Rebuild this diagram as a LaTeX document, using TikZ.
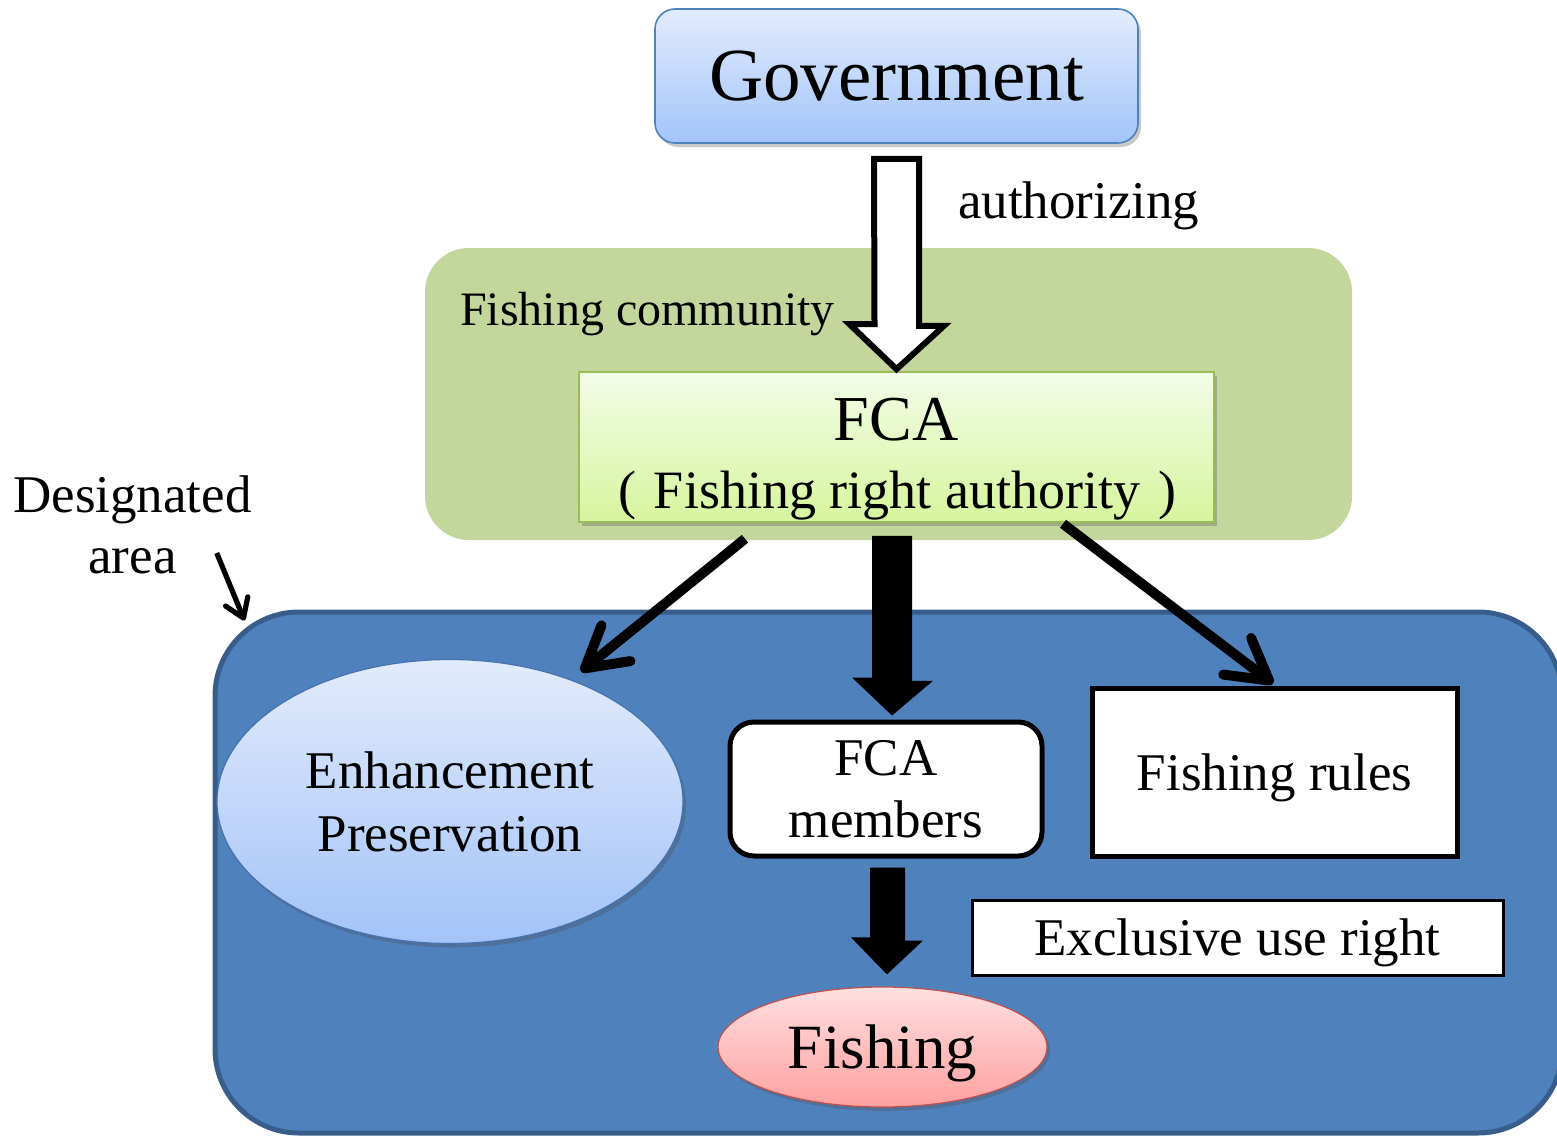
\documentclass[tikz,border=0pt]{standalone}
\usepackage{fontspec}
\setmainfont{Liberation Serif}
\usetikzlibrary{arrows.meta,shadows,calc,shapes.geometric}

\definecolor{govtop}{RGB}{226,236,253}
\definecolor{govbot}{RGB}{163,196,250}
\definecolor{govline}{RGB}{79,129,189}
\definecolor{commfill}{RGB}{195,214,155}
\definecolor{fcatop}{RGB}{243,252,232}
\definecolor{fcabot}{RGB}{214,245,158}
\definecolor{fcaline}{RGB}{155,187,89}
\definecolor{areafill}{RGB}{79,129,189}
\definecolor{arealine}{RGB}{56,93,138}
\definecolor{enhtop}{RGB}{226,235,252}
\definecolor{enhbot}{RGB}{163,195,248}
\definecolor{enhline}{RGB}{70,115,175}
\definecolor{fishtop}{RGB}{255,224,224}
\definecolor{fishbot}{RGB}{255,160,160}
\definecolor{fishline}{RGB}{192,80,77}

\newcommand{\fs}[1]{\fontsize{#1}{1.15\dimexpr#1\relax}\selectfont}

\tikzset{
  softshadow/.style={drop shadow={shadow xshift=1.5pt,shadow yshift=-2pt,opacity=0.3,fill=black!70}},
  govbox/.style={rectangle,rounded corners=10pt,top color=govtop,bottom color=govbot,
    draw=govline,line width=0.8pt,softshadow,inner sep=0pt},
  commbox/.style={rectangle,rounded corners=22pt,fill=commfill,inner sep=0pt},
  fcabox/.style={rectangle,top color=fcatop,bottom color=fcabot,draw=fcaline,
    line width=0.8pt,softshadow,inner sep=0pt},
  areabox/.style={rectangle,rounded corners=42pt,fill=areafill,draw=arealine,
    line width=2.5pt,inner sep=0pt},
  enhshape/.style={ellipse,top color=enhtop,bottom color=enhbot,draw=enhline,
    line width=0.6pt,softshadow,inner sep=0pt,align=center},
  fishshape/.style={ellipse,top color=fishtop,bottom color=fishbot,draw=fishline,
    line width=0.6pt,softshadow,inner sep=0pt},
  whitebox/.style={rectangle,fill=white,draw=black,inner sep=0pt,align=center},
  txt/.style={inner sep=0pt,outer sep=0pt},
  hollowarrow/.style={draw=black,fill=white,line width=3pt,line join=miter},
  blockarrow/.style={fill=black},
  barbarrow/.style={draw=black,line width=5pt,
    -{Straight Barb[length=20pt,width=23pt,line width=5pt,round]}},
  thinbarb/.style={draw=black,line width=2.6pt,
    -{Straight Barb[length=9pt,width=12pt,line width=2.6pt,round]}},
}

\begin{document}
\begin{tikzpicture}[x=0.5pt,y=-0.5pt]
\useasboundingbox (0,0) rectangle (1557,1135);
\clip (0,0) rectangle (1557,1135);

% fishing community band
\node[commbox,minimum width=463.5pt,minimum height=146pt] (comm) at (888.5,394) {};
\node[txt,anchor=base west,font=\fs{24pt}] (commlabel) at (460,325) {Fishing community};

% government
\node[govbox,minimum width=241.5pt,minimum height=67pt,font=\fs{37.5pt}] (gov) at (896.5,76) {Government};

% FCA box
\node[fcabox,minimum width=317.5pt,minimum height=75pt] (fca) at (896.5,447) {};
\node[txt,anchor=base,font=\fs{32pt}] (fcaname) at (896,440) {FCA};
\node[txt,anchor=base,font=\fs{27pt}] (fcasub) at (897,508) {(\hspace{9pt}Fishing right authority\hspace{9pt})};

% authorizing arrow
\draw[hollowarrow] ($(gov.south)+(-22.5,15)$) -- ++(45,0) -- ++(0,167) -- ++(25,0)
  -- ($(fca.north)+(0,-2)$) -- ++(-47,-45) -- ++(25,0) -- cycle;
\node[txt,anchor=base west,font=\fs{26.5pt}] (auth) at (958,218) {authorizing};

% designated area
\node[areabox,minimum width=673.5pt,minimum height=260.5pt] (area) at (888.5,872.5) {};
\node[txt,align=center,font=\fs{26.5pt},execute at begin node=\setlength{\baselineskip}{30.5pt}]
  (desig) at (132.5,524.5) {Designated\\area};
\draw[thinbarb] ($(desig.east)+(-35,28.5)$) -- ($(area.north west)+(32,11)$);

% inner elements
\node[enhshape,minimum width=233pt,minimum height=142pt,font=\fs{26.5pt},
  execute at begin node=\setlength{\baselineskip}{31.5pt}] (enh) at (450,801.5)
  {Enhancement\\Preservation};

\node[whitebox,rounded corners=12pt,line width=2.5pt,minimum width=156pt,minimum height=67pt,
  font=\fs{26.5pt},execute at begin node=\setlength{\baselineskip}{31pt}] (mem) at (886,789)
  {FCA\\members};

\node[whitebox,line width=2.5pt,minimum width=182.5pt,minimum height=84pt,
  font=\fs{26.5pt},text depth=0pt] (rules) at (1274.5,772) {Fishing rules};

\node[whitebox,line width=1.5pt,minimum width=265.5pt,minimum height=37.5pt,
  font=\fs{26.5pt},text depth=0pt] (excl) at (1237.5,937.5) {Exclusive use right};

\node[fishshape,minimum width=164.5pt,minimum height=60pt,font=\fs{31.5pt},text depth=0pt]
  (fish) at (882.5,1047) {Fishing};

% arrows out of the FCA
\draw[barbarrow] ($(fca.south)+(-151.5,16)$) -- ($(enh.center)+(131,-130)$);
\draw[barbarrow] ($(fca.south)+(166.5,1)$) -- ($(rules.north)+(-1.5,-2)$);
\fill[blockarrow] ($(fca.south)+(-24.5,13)$) -- ++(40,0) -- ++(0,145) -- ++(21,0)
  -- ($(mem.north)+(6,-4)$) -- ++(-40,-38) -- ++(20,0) -- cycle;

% members to fishing
\fill[blockarrow] ($(mem.south)+(-16,9)$) -- ++(35,0) -- ++(0,73) -- ++(18,0)
  -- ($(fish.north)+(4.5,-12)$) -- ++(-36,-37) -- ++(19,0) -- cycle;
\end{tikzpicture}
\end{document}
